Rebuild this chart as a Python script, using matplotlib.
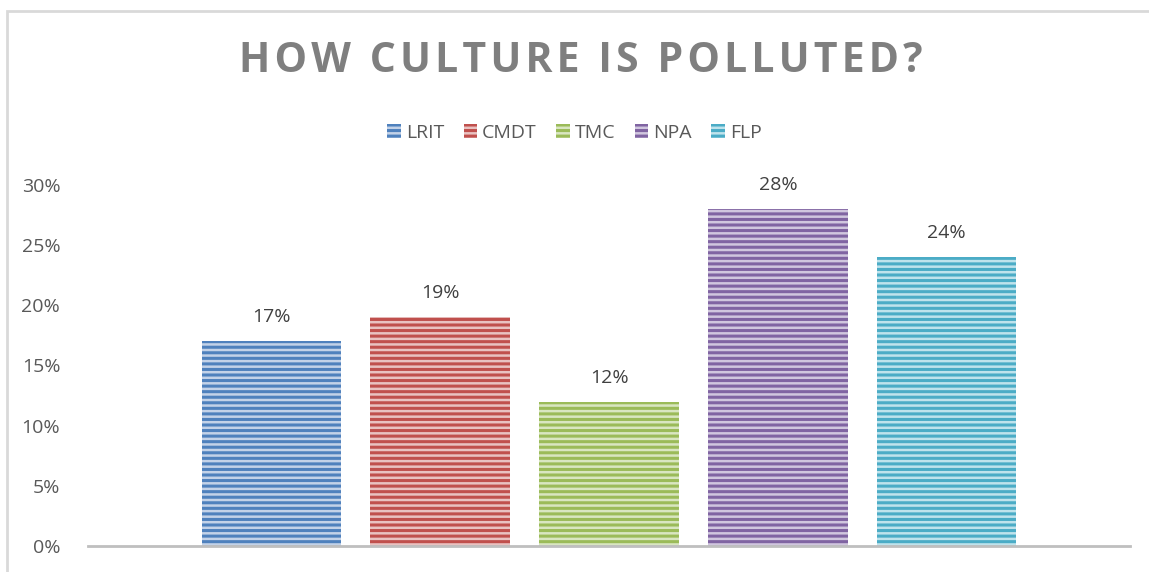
import matplotlib
matplotlib.use("Agg")
import matplotlib.pyplot as plt
from matplotlib.patches import Rectangle
from matplotlib.ticker import PercentFormatter

# data
series = ["LRIT", "CMDT", "TMC", "NPA", "FLP"]
values = [0.17, 0.19, 0.12, 0.28, 0.24]
colors = ["#4F81BD", "#C0504D", "#9BBB59", "#8064A2", "#4BACC6"]
tints = ["#C3D2E8", "#E9C2C1", "#D9E6C1", "#D0C6DE", "#BFE3EC"]
yticks = [0, 0.05, 0.10, 0.15, 0.20, 0.25, 0.30]
title = "HOW CULTURE IS POLLUTED?"

plt.rcParams["font.family"] = ["Open Sans", "DejaVu Sans"]
plt.rcParams["hatch.linewidth"] = 2.2

W, H = 1149, 572
fig = plt.figure(figsize=(W / 100, H / 100), dpi=100)

# outer chart frame
fig.patches.append(Rectangle((7 / W, -0.05), 1.2, 1 - 11 / H + 0.05,
                             transform=fig.transFigure, fill=False,
                             edgecolor="#D9D9D9", linewidth=2))

ax = fig.add_axes([88 / W, 26 / H, (1130 - 88) / W, (546 - 185) / H])

x = range(len(series))
bars = ax.bar(x, values, width=0.825, color=tints, edgecolor=colors,
              linewidth=0, hatch="---", label=series)
for b, c in zip(bars, colors):
    b.set_edgecolor(c)
    b.set_linewidth(0)

for xi, v in zip(x, values):
    ax.text(xi, v + 0.0125, f"{v:.0%}", ha="center", va="bottom",
            fontsize=14, color="#404040")

ax.set_xlim(-1.085, 4 + 1.085)
ax.set_ylim(0, 0.30)
ax.set_yticks(yticks)
ax.yaxis.set_major_formatter(PercentFormatter(1.0, decimals=0))
ax.tick_params(axis="y", length=0, labelsize=14, labelcolor="#595959", pad=20)
ax.set_xticks([])
for s in ["top", "right", "left"]:
    ax.spines[s].set_visible(False)
ax.spines["bottom"].set_color("#BFBFBF")
ax.spines["bottom"].set_linewidth(2)

leg = fig.legend(handles=bars, labels=series, loc="center",
                 bbox_to_anchor=(0.5, 1 - 133 / H), ncol=5, frameon=False,
                 fontsize=14, handlelength=0.7, handleheight=0.7,
                 handletextpad=0.25, columnspacing=1.0, labelcolor="#595959")

spaced = "\u200a".join(title)
fig.text(581 / W, 1 - 62 / H, spaced, ha="center", va="center",
         fontsize=29.5, fontweight="bold", color="#7F7F7F")

fig.savefig("out.png", dpi=100)
